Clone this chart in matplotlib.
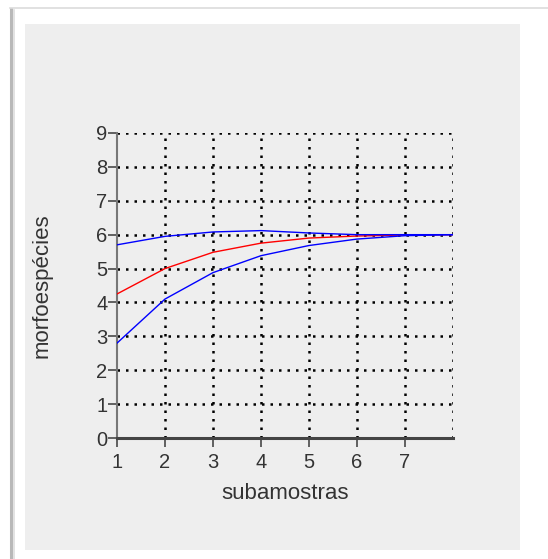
import matplotlib.pyplot as plt
from matplotlib.patches import Rectangle
from matplotlib.lines import Line2D

plt.rcParams['font.family'] = ['Liberation Sans', 'DejaVu Sans']

subamostras = [1, 2, 3, 4, 5, 6, 7, 8]
azul_alto = [5.70, 5.95, 6.08, 6.12, 6.05, 6.00, 6.00, 6.00]
vermelho = [4.25, 5.00, 5.48, 5.75, 5.90, 5.96, 5.99, 6.00]
azul_baixo = [2.80, 4.10, 4.88, 5.38, 5.68, 5.87, 5.97, 6.00]

xticks = [1, 2, 3, 4, 5, 6, 7]
yticks = [0, 1, 2, 3, 4, 5, 6, 7, 8, 9]
xgrid = [2, 3, 4, 5, 6, 7, 8]
ygrid = [1, 2, 3, 4, 5, 6, 7, 8, 9]

W, H = 548, 559
fig = plt.figure(figsize=(W / 100, H / 100), dpi=100)
fig.patch.set_facecolor('white')

# moldura da captura
fig.add_artist(Line2D([11 / W, 11 / W], [0, 1 - 9 / H], color='#b8b8b8', lw=2.2, zorder=-10))
fig.add_artist(Line2D([13.5 / W, 13.5 / W], [0, 1 - 10 / H], color='#dddddd', lw=1.2, zorder=-10))
fig.add_artist(Line2D([10 / W, 1], [1 - 8 / H, 1 - 8 / H], color='#dcdcdc', lw=1.2, zorder=-10))
fig.add_artist(Rectangle((25 / W, 9 / H), 495 / W, 526 / H,
                         facecolor='#eeeeee', edgecolor='none', zorder=-10))

ax = fig.add_axes([117 / W, 1 - 438 / H, 336 / W, 305 / H])
ax.set_facecolor('none')

for x in xgrid:
    ax.axvline(x, color='black', lw=1.8, linestyle=(0, (1, 2.4)), zorder=1)
for y in ygrid:
    ax.axhline(y, color='black', lw=1.8, linestyle=(0, (1, 2.4)), zorder=1)

ax.plot(subamostras, vermelho, color='#ff0000', lw=1.0, zorder=3)
ax.plot(subamostras, azul_baixo, color='#0000ff', lw=1.0, zorder=4)
ax.plot(subamostras, azul_alto, color='#0000ff', lw=1.0, zorder=4)

ax.set_xlim(1, 8)
ax.set_ylim(0, 9)
ax.set_xticks(xticks)
ax.set_yticks(yticks)
ax.tick_params(axis='both', direction='out', length=6.5, labelsize=14.5,
               labelcolor='#333333', color='#555555', width=1.3)
ax.tick_params(axis='x', pad=4)
ax.tick_params(axis='y', pad=0.5)

for s in ['top', 'right']:
    ax.spines[s].set_visible(False)
ax.spines['left'].set_color('#777777')
ax.spines['left'].set_linewidth(1.5)
ax.spines['bottom'].set_color('#444444')
ax.spines['bottom'].set_linewidth(2.2)

ax.set_xlabel('subamostras', fontsize=16, color='#333333', labelpad=8)
ax.set_ylabel('morfoespécies', fontsize=16, color='#333333', labelpad=31)

fig.savefig('out.png', dpi=100)
